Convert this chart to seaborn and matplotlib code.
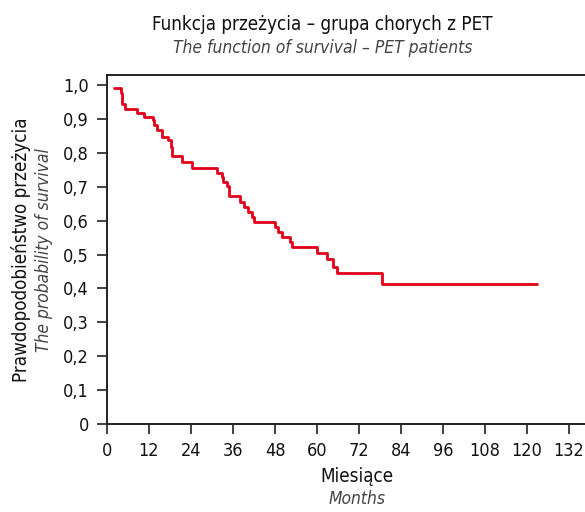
import matplotlib
matplotlib.use("Agg")
import matplotlib.pyplot as plt
import seaborn as sns
import pandas as pd

# Kaplan-Meier step data
months = [2.0, 3.9, 4.2, 5.1, 8.7, 10.6, 13.0, 13.4, 14.4, 15.6, 17.5, 18.2, 18.5,
          21.3, 24.2, 31.5, 32.8, 33.2, 34.4, 34.9, 38.0, 39.1, 40.2, 41.5, 42.0,
          48.0, 48.9, 50.1, 52.3, 52.9, 60.1, 62.9, 64.7, 65.8, 78.6, 122.8]
survival = [0.990, 0.976, 0.943, 0.929, 0.918, 0.906, 0.897, 0.882, 0.867, 0.847,
            0.838, 0.818, 0.791, 0.772, 0.755, 0.741, 0.728, 0.713, 0.702, 0.673,
            0.656, 0.641, 0.626, 0.612, 0.597, 0.582, 0.567, 0.553, 0.538, 0.521,
            0.504, 0.486, 0.464, 0.445, 0.414, 0.414]
x_ticks = [0, 12, 24, 36, 48, 60, 72, 84, 96, 108, 120, 132]
y_ticks = [0, 0.1, 0.2, 0.3, 0.4, 0.5, 0.6, 0.7, 0.8, 0.9, 1.0]
y_tick_labels = ["0", "0,1", "0,2", "0,3", "0,4", "0,5", "0,6", "0,7", "0,8", "0,9", "1,0"]

sns.set_style("white")
plt.rcParams["font.family"] = ["DejaVu Sans"]
plt.rcParams["font.stretch"] = "condensed"

df = pd.DataFrame({"month": months, "surv": survival})

fig = plt.figure(figsize=(5.85, 5.12), dpi=100)
ax = fig.add_axes([107 / 585, 1 - 424 / 512, (585 - 107) / 585, (424 - 75) / 512])
sns.lineplot(data=df, x="month", y="surv", drawstyle="steps-post", color="#E2001A",
             linewidth=2.0, ax=ax)

ax.set_xlim(0, 478 / 3.5)
ax.set_ylim(0, 1 + 10 / 339)
ax.set_xticks(x_ticks)
ax.set_xticklabels([str(t) for t in x_ticks])
ax.set_yticks(y_ticks)
ax.set_yticklabels(y_tick_labels)
ax.tick_params(axis="both", direction="out", length=7, width=1.2, colors="#222222",
               labelsize=13, labelcolor="#111111", pad=6)
ax.tick_params(axis="x", bottom=True)
ax.tick_params(axis="y", left=True)
for s in ["left", "bottom", "top"]:
    ax.spines[s].set_visible(True)
    ax.spines[s].set_color("#222222")
    ax.spines[s].set_linewidth(1.4)
ax.spines["right"].set_visible(False)
ax.set_xlabel("")
ax.set_ylabel("")

fig.text(322 / 585, 1 - 24 / 512, "Funkcja przeżycia – grupa chorych z PET",
         ha="center", va="center", fontsize=13.5, color="#111111")
fig.text(323 / 585, 1 - 48 / 512, "The function of survival – PET patients",
         ha="center", va="center", fontsize=12.5, style="italic", color="#444444")
fig.text(357 / 585, 1 - 477 / 512, "Miesiące", ha="center", va="center",
         fontsize=13.5, color="#111111")
fig.text(357 / 585, 1 - 499 / 512, "Months", ha="center", va="center",
         fontsize=12.5, style="italic", color="#444444")
fig.text(21 / 585, 1 - 250 / 512, "Prawdopodobieństwo przeżycia", ha="center",
         va="center", rotation=90, fontsize=13.5, color="#111111")
fig.text(44 / 585, 1 - 250 / 512, "The probability of survival", ha="center",
         va="center", rotation=90, fontsize=12.5, style="italic", color="#444444")

fig.savefig("out.png", dpi=100)
